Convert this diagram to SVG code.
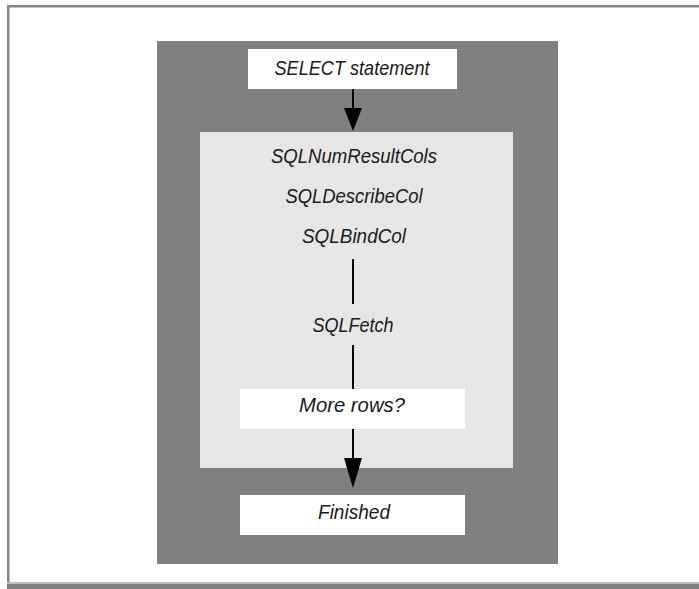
<svg xmlns="http://www.w3.org/2000/svg" width="699" height="589" viewBox="0 0 699 589">
<style>
.lbl{font-family:"Liberation Sans",Arial,sans-serif;font-style:italic;font-size:21px;fill:#1a1a1a;text-anchor:middle}
.box{fill:#ffffff}
.conn{stroke:#000;stroke-width:2;fill:none}
.head{fill:#000}
</style>
<rect x="0" y="0" width="699" height="589" fill="#ffffff"/>
<g id="frame">
<rect x="7" y="5" width="692" height="2.5" fill="#858585"/>
<rect x="7" y="5" width="2.5" height="577" fill="#858585"/>
<rect x="7" y="582" width="692" height="2" fill="#bdbdbd"/>
<rect x="7" y="584" width="692" height="5" fill="#808080"/>
</g>
<g id="outer">
<rect x="157" y="41" width="401" height="523" fill="#808080"/>
</g>
<g id="loop">
<rect x="200" y="132" width="313" height="336" fill="#e6e6e6"/>
<text class="lbl" x="354" y="163" textLength="166" lengthAdjust="spacingAndGlyphs">SQLNumResultCols</text>
<text class="lbl" x="354" y="203" textLength="137" lengthAdjust="spacingAndGlyphs">SQLDescribeCol</text>
<text class="lbl" x="354" y="243" textLength="104" lengthAdjust="spacingAndGlyphs">SQLBindCol</text>
<text class="lbl" x="353" y="332" textLength="81" lengthAdjust="spacingAndGlyphs">SQLFetch</text>
</g>
<g id="select">
<rect class="box" x="248" y="49" width="209" height="40"/>
<text class="lbl" x="352" y="75" textLength="155" lengthAdjust="spacingAndGlyphs">SELECT statement</text>
</g>
<g id="more">
<rect class="box" x="240" y="389" width="225" height="40"/>
<text class="lbl" x="352" y="412" textLength="106" lengthAdjust="spacingAndGlyphs">More rows?</text>
</g>
<g id="finished">
<rect class="box" x="240" y="495" width="225" height="40"/>
<text class="lbl" x="354" y="519" textLength="72" lengthAdjust="spacingAndGlyphs">Finished</text>
</g>
<g id="connectors">
<line class="conn" x1="353" y1="89" x2="353" y2="110"/>
<path class="head" d="M344,108 L362,108 L353,131 Z"/>
<line class="conn" x1="353" y1="259" x2="353" y2="304"/>
<line class="conn" x1="353" y1="345" x2="353" y2="389"/>
<line class="conn" x1="353" y1="429" x2="353" y2="460"/>
<path class="head" d="M344,458 L362,458 L353,488 Z"/>
</g>
</svg>
